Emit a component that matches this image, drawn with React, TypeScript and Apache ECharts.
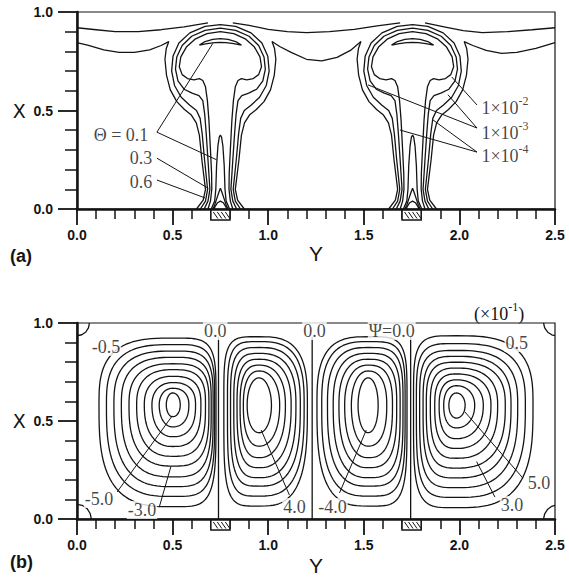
import React, { useEffect, useRef } from "react";
import * as echarts from "echarts";

const INK = "#141414";

// ================= Panel (a): temperature field Θ =================
// plume centres (Y) and heated strips on the bottom wall
const PLUME_CENTERS = [0.75, 1.755];
const HEATERS = [
  [0.7, 0.8],
  [1.7, 1.8],
];

// upper wavy contour (absolute [Y, X])
const UP_LEFT = [[0, 0.92], [0.1, 0.91], [0.2, 0.9], [0.32, 0.9], [0.44, 0.91], [0.56, 0.925], [0.685, 0.945]];
const UP_MID = [[0.815, 0.945], [0.9, 0.932], [1.0, 0.912], [1.1, 0.9], [1.2, 0.895], [1.32, 0.9], [1.45, 0.912], [1.57, 0.93], [1.69, 0.945]];
const UP_RIGHT = [[1.82, 0.945], [1.92, 0.925], [2.02, 0.905], [2.12, 0.895], [2.25, 0.9], [2.38, 0.91], [2.5, 0.92]];

// lower wavy contour (absolute [Y, X])
const LOW_LEFT = [[0, 0.845], [0.06, 0.83], [0.14, 0.808], [0.22, 0.795], [0.3, 0.795], [0.38, 0.808], [0.44, 0.83], [0.48, 0.85]];
const LOW_MID = [[1.02, 0.85], [1.06, 0.825], [1.12, 0.795], [1.2, 0.76], [1.28, 0.752], [1.36, 0.77], [1.43, 0.805], [1.485, 0.85]];
const LOW_RIGHT = [[2.025, 0.85], [2.07, 0.83], [2.14, 0.805], [2.22, 0.79], [2.3, 0.795], [2.4, 0.815], [2.5, 0.845]];

// plume contours: left half, [dY from plume centre, X], from top down to the wall
const RING_C = [[0, 0.9], [-0.07, 0.89], [-0.13, 0.864], [-0.178, 0.822], [-0.207, 0.772], [-0.215, 0.722], [-0.2, 0.682], [-0.172, 0.662], [-0.138, 0.656], [-0.11, 0.662], [-0.092, 0.652], [-0.078, 0.62], [-0.068, 0.55], [-0.06, 0.45], [-0.052, 0.3], [-0.046, 0.18], [-0.045, 0.1], [-0.052, 0.04], [-0.065, 0.0]];
const RING_B = [[0, 0.918], [-0.08, 0.907], [-0.15, 0.877], [-0.2, 0.83], [-0.228, 0.772], [-0.235, 0.71], [-0.222, 0.65], [-0.19, 0.608], [-0.148, 0.588], [-0.112, 0.576], [-0.092, 0.55], [-0.082, 0.48], [-0.074, 0.38], [-0.065, 0.25], [-0.055, 0.1], [-0.065, 0.04], [-0.085, 0.0]];
const RING_A = [[0, 0.936], [-0.08, 0.927], [-0.16, 0.894], [-0.217, 0.843], [-0.248, 0.775], [-0.255, 0.7], [-0.24, 0.627], [-0.205, 0.567], [-0.16, 0.527], [-0.125, 0.5], [-0.106, 0.46], [-0.095, 0.38], [-0.083, 0.25], [-0.067, 0.1], [-0.078, 0.04], [-0.105, 0.0]];
const W_LOW_HOOK = [[-0.27, 0.85], [-0.283, 0.815], [-0.29, 0.76], [-0.282, 0.68], [-0.262, 0.605], [-0.228, 0.545], [-0.188, 0.505], [-0.152, 0.477], [-0.126, 0.437], [-0.11, 0.375], [-0.097, 0.25], [-0.078, 0.1], [-0.09, 0.045], [-0.125, 0.0]];
const SPIKE = [[0, 0.375], [-0.006, 0.365], [-0.013, 0.32], [-0.02, 0.22], [-0.024, 0.1], [-0.03, 0.04], [-0.048, 0.0]];
const TRIANGLE = [[0, 0.105], [-0.008, 0.085], [-0.02, 0.05], [-0.03, 0.02], [-0.04, 0.0]];
const BUMP = [[0, 0.04], [-0.015, 0.032], [-0.028, 0.012], [-0.034, 0.0]];
const CRESCENT = [[-0.11, 0.832], [-0.08, 0.85], [-0.04, 0.861], [0, 0.865], [0.04, 0.861], [0.08, 0.85], [0.11, 0.832], [0.07, 0.84], [0.03, 0.845], [0, 0.846], [-0.03, 0.845], [-0.07, 0.84], [-0.11, 0.832]];

// labels and leader lines of panel (a)
const THETA_LABELS = [
  { text: "Θ = 0.1", y: 0.23, x: 0.376 },
  { text: "0.3", y: 0.335, x: 0.259 },
  { text: "0.6", y: 0.335, x: 0.137 },
];
const EXP_LABELS = [
  { mant: "1×10", exp: "-2", y: 2.115, x: 0.523 },
  { mant: "1×10", exp: "-3", y: 2.115, x: 0.396 },
  { mant: "1×10", exp: "-4", y: 2.115, x: 0.279 },
];
const THETA_LEADERS = [
  [[0.418, 0.39], [0.71, 0.84]],
  [[0.418, 0.39], [0.73, 0.25]],
  [[0.418, 0.258], [0.687, 0.105]],
  [[0.418, 0.147], [0.67, 0.056]],
  [[2.092, 0.528], [1.96, 0.67]],
  [[2.092, 0.411], [1.94, 0.58]],
  [[2.092, 0.411], [1.522, 0.63]],
  [[2.092, 0.289], [1.862, 0.452]],
  [[2.092, 0.289], [1.689, 0.401]],
];

// ================= Panel (b): stream function Ψ (×10^-1) =================
// each cell: centre [Y, X] and contour extents, innermost -> outermost
const CELL1_LEVELS = [-5.0, -4.5, -4.0, -3.5, -3.0, -2.5, -2.0, -1.5, -1.0, -0.5];
const CELL1_CENTER = [0.5, 0.582];
const CELL1_LEFT = [0.467, 0.43, 0.392, 0.352, 0.312, 0.272, 0.232, 0.193, 0.154, 0.115];
const CELL1_RIGHT = [0.54, 0.585, 0.62, 0.648, 0.672, 0.69, 0.702, 0.712, 0.72, 0.727];
const CELL1_BOTTOM = [0.522, 0.47, 0.42, 0.37, 0.32, 0.27, 0.215, 0.165, 0.115, 0.063];
const CELL1_TOP = [0.643, 0.667, 0.696, 0.728, 0.762, 0.792, 0.825, 0.857, 0.89, 0.923];

const CELL2_LEVELS = [4.0, 3.5, 3.0, 2.5, 2.0, 1.5, 1.0, 0.5];
const CELL2_CENTER = [0.953, 0.58];
const CELL2_LEFT = [0.89, 0.87, 0.853, 0.837, 0.82, 0.803, 0.787, 0.768];
const CELL2_RIGHT = [1.017, 1.06, 1.09, 1.12, 1.145, 1.168, 1.188, 1.205];
const CELL2_BOTTOM = [0.44, 0.372, 0.313, 0.262, 0.211, 0.168, 0.117, 0.066];
const CELL2_TOP = [0.72, 0.755, 0.785, 0.815, 0.845, 0.875, 0.905, 0.93];

const CELL3_LEVELS = [-4.0, -3.5, -3.0, -2.5, -2.0, -1.5, -1.0, -0.5];
const CELL3_CENTER = [1.522, 0.58];
const CELL3_LEFT = [1.47, 1.435, 1.4, 1.37, 1.34, 1.31, 1.28, 1.255];
const CELL3_RIGHT = [1.575, 1.62, 1.65, 1.672, 1.69, 1.705, 1.716, 1.726];
const CELL3_BOTTOM = [0.44, 0.372, 0.313, 0.262, 0.211, 0.168, 0.117, 0.066];
const CELL3_TOP = [0.72, 0.755, 0.785, 0.815, 0.845, 0.875, 0.905, 0.93];

const CELL4_LEVELS = [5.0, 4.5, 4.0, 3.5, 3.0, 2.5, 2.0, 1.5, 1.0, 0.5];
const CELL4_CENTER = [1.985, 0.58];
const CELL4_LEFT = [1.945, 1.918, 1.894, 1.871, 1.848, 1.827, 1.81, 1.792, 1.775, 1.76];
const CELL4_RIGHT = [2.03, 2.08, 2.125, 2.165, 2.2, 2.24, 2.27, 2.305, 2.345, 2.385];
const CELL4_BOTTOM = [0.515, 0.465, 0.41, 0.36, 0.31, 0.26, 0.21, 0.16, 0.11, 0.058];
const CELL4_TOP = [0.643, 0.68, 0.71, 0.74, 0.77, 0.8, 0.83, 0.86, 0.895, 0.935];

// Ψ = 0 dividing lines and corner eddies
const PSI_ZERO_Y = [0.74, 1.23, 1.745];
const PSI_ZERO_TOP = 0.93;
const CORNER_TL = [[0, 0.935], [0.025, 0.94], [0.046, 0.954], [0.06, 0.975], [0.065, 1.0]];
const CORNER_BL = [[0, 0.075], [0.027, 0.07], [0.053, 0.053], [0.069, 0.028], [0.075, 0]];
const CORNER_TR = [[2.44, 1.0], [2.446, 0.975], [2.462, 0.953], [2.483, 0.94], [2.5, 0.936]];
const CORNER_BR = [[2.44, 0], [2.446, 0.026], [2.462, 0.05], [2.483, 0.065], [2.5, 0.07]];

const PSI_LABELS = [
  { text: "-0.5", y: 0.152, x: 0.878 },
  { text: "0.0", y: 0.723, x: 0.959 },
  { text: "0.0", y: 1.242, x: 0.959 },
  { text: "Ψ=0.0", y: 1.646, x: 0.959 },
  { text: "0.5", y: 2.3, x: 0.898 },
  { text: "-5.0", y: 0.115, x: 0.102 },
  { text: "-3.0", y: 0.34, x: 0.046 },
  { text: "4.0", y: 1.137, x: 0.061 },
  { text: "-4.0", y: 1.336, x: 0.061 },
  { text: "5.0", y: 2.416, x: 0.184 },
  { text: "3.0", y: 2.275, x: 0.071 },
];
const PSI_LEADERS = [
  [[0.21, 0.138], [0.498, 0.526]],
  [[0.43, 0.06], [0.491, 0.267]],
  [[1.111, 0.122], [0.963, 0.454]],
  [[1.373, 0.133], [1.513, 0.454]],
  [[2.332, 0.209], [2.028, 0.547]],
  [[2.186, 0.112], [2.09, 0.293]],
];

// shape exponents for the nested cells (style, innermost -> outermost)
// side squeezed against a plume is flatter, the open side is rounder
const EXP_BAND_10 = [2.1, 2.3, 2.5, 2.75, 3.0, 3.25, 3.5, 3.8, 4.1, 4.5];
const EXP_OPEN_10 = [2.0, 2.1, 2.2, 2.35, 2.5, 2.6, 2.7, 2.8, 2.9, 3.0];
const EXP_BAND_8 = [2.1, 2.4, 2.7, 3.0, 3.35, 3.7, 4.1, 4.5];
const EXP_OPEN_8 = [2.0, 2.15, 2.3, 2.45, 2.6, 2.75, 2.9, 3.0];

// ---------- helpers ----------
const mirror = (pts: number[][]) => pts.map(([d, x]) => [-d, x]);
const fullFromHalf = (half: number[][]) => [...mirror(half).reverse(), ...half.slice(1)];
const place = (pts: number[][], c: number) => pts.map(([d, x]) => [+(c + d).toFixed(4), x]);

function loop(center: number[], L: number, R: number, B: number, T: number, nLeft: number, nRight: number) {
  const [cy, cx] = center;
  const pts: number[][] = [];
  const steps = 120;
  for (let i = 0; i <= steps; i++) {
    const t = (i / steps) * Math.PI * 2;
    const c = Math.cos(t);
    const s = Math.sin(t);
    const n = c >= 0 ? nRight : nLeft;
    const ex = Math.sign(c) * Math.pow(Math.abs(c), 2 / n);
    const ey = Math.sign(s) * Math.pow(Math.abs(s), 2 / n);
    const y = cy + (ex >= 0 ? R - cy : cy - L) * ex;
    const x = cx + (ey >= 0 ? T - cx : cx - B) * ey;
    pts.push([+y.toFixed(4), +x.toFixed(4)]);
  }
  return pts;
}

const CELLS = [
  { levels: CELL1_LEVELS, center: CELL1_CENTER, L: CELL1_LEFT, R: CELL1_RIGHT, B: CELL1_BOTTOM, T: CELL1_TOP, nL: EXP_OPEN_10, nR: EXP_BAND_10 },
  { levels: CELL2_LEVELS, center: CELL2_CENTER, L: CELL2_LEFT, R: CELL2_RIGHT, B: CELL2_BOTTOM, T: CELL2_TOP, nL: EXP_BAND_8, nR: EXP_OPEN_8 },
  { levels: CELL3_LEVELS, center: CELL3_CENTER, L: CELL3_LEFT, R: CELL3_RIGHT, B: CELL3_BOTTOM, T: CELL3_TOP, nL: EXP_OPEN_8, nR: EXP_BAND_8 },
  { levels: CELL4_LEVELS, center: CELL4_CENTER, L: CELL4_LEFT, R: CELL4_RIGHT, B: CELL4_BOTTOM, T: CELL4_TOP, nL: EXP_BAND_10, nR: EXP_OPEN_10 },
];

const line = (data: number[][], gi: number, width = 1.3) => ({
  type: "line",
  xAxisIndex: gi,
  yAxisIndex: gi,
  data,
  symbol: "none",
  showSymbol: false,
  silent: true,
  lineStyle: { color: INK, width },
  z: 3,
});

const SERIF = "'Liberation Serif', 'DejaVu Serif', serif";

function buildOption() {
  const series: any[] = [];

  // ----- panel (a)
  [UP_LEFT, UP_MID, UP_RIGHT, LOW_LEFT, LOW_MID, LOW_RIGHT].forEach((p) => series.push(line(p, 0)));
  PLUME_CENTERS.forEach((c) => {
    [RING_A, RING_B, RING_C, SPIKE, TRIANGLE, BUMP].forEach((h) => series.push(line(place(fullFromHalf(h), c), 0)));
    series.push(line(place(W_LOW_HOOK, c), 0));
    series.push(line(place(mirror(W_LOW_HOOK), c), 0));
    series.push(line(place(CRESCENT, c), 0));
  });
  THETA_LEADERS.forEach((l) => series.push(line(l, 0, 1)));

  series.push({
    type: "scatter",
    xAxisIndex: 0,
    yAxisIndex: 0,
    symbolSize: 0,
    silent: true,
    z: 5,
    data: [
      ...THETA_LABELS.map((l) => ({
        value: [l.y, l.x],
        name: l.text,
        label: {
          show: true,
          position: "inside",
          formatter: "{b}",
          fontFamily: SERIF,
          fontSize: 18,
          color: INK,
          backgroundColor: "#fff",
          padding: [0, 1],
        },
      })),
      ...EXP_LABELS.map((l) => ({
        value: [l.y, l.x],
        name: l.mant + l.exp,
        label: {
          show: true,
          position: "right",
          distance: 0,
          formatter: `{m|${l.mant}}{e|${l.exp}}`,
          backgroundColor: "#fff",
          rich: {
            m: { fontFamily: SERIF, fontSize: 18, color: INK, lineHeight: 22, verticalAlign: "bottom" },
            e: { fontFamily: SERIF, fontSize: 12, color: INK, lineHeight: 22, verticalAlign: "top" },
          },
        },
      })),
    ],
  });

  // ----- panel (b)
  CELLS.forEach((cell) => {
    cell.levels.forEach((_, i) => {
      series.push(line(loop(cell.center, cell.L[i], cell.R[i], cell.B[i], cell.T[i], cell.nL[i], cell.nR[i]), 1));
    });
  });
  PSI_ZERO_Y.forEach((y) => series.push(line([[y, 0], [y, PSI_ZERO_TOP]], 1)));
  [CORNER_TL, CORNER_BL, CORNER_TR, CORNER_BR].forEach((p) => series.push(line(p, 1)));
  PSI_LEADERS.forEach((l) => series.push(line(l, 1, 1)));
  series.push({
    type: "scatter",
    xAxisIndex: 1,
    yAxisIndex: 1,
    symbolSize: 0,
    silent: true,
    z: 5,
    data: PSI_LABELS.map((l) => ({
      value: [l.y, l.x],
      name: l.text,
      label: {
        show: true,
        position: "inside",
        formatter: "{b}",
        fontFamily: SERIF,
        fontSize: 18,
        color: INK,
        backgroundColor: "#fff",
        padding: [0, 1],
      },
    })),
  });

  // heated strips, both panels
  [0, 1].forEach((gi) =>
    series.push({
      type: "custom",
      xAxisIndex: gi,
      yAxisIndex: gi,
      clip: false,
      silent: true,
      z: 6,
      data: HEATERS.map((h) => [h[0], h[1], 0]),
      encode: { x: [0, 1], y: 2 },
      renderItem: (params: any, api: any) => {
        const a = api.coord([api.value(0), 0]);
        const b = api.coord([api.value(1), 0]);
        const w = b[0] - a[0];
        const h = 10;
        const y0 = a[1] + 1;
        const children: any[] = [
          { type: "rect", shape: { x: a[0], y: y0, width: w, height: h }, style: { fill: "#fff", stroke: INK, lineWidth: 1.5 } },
        ];
        for (let k = 0; k < 4; k++) {
          const sx = a[0] + 2.5 + k * 4;
          children.push({ type: "line", shape: { x1: sx, y1: y0 + 2, x2: sx + 4.5, y2: y0 + h - 1.5 }, style: { stroke: INK, lineWidth: 1 } });
        }
        return { type: "group", children };
      },
    })
  );

  const xAxis = (gi: number, nameGap: number) => ({
    type: "value",
    gridIndex: gi,
    min: 0,
    max: 2.5,
    interval: 0.5,
    name: "Y",
    nameLocation: "middle",
    nameGap,
    nameTextStyle: { fontFamily: "'Liberation Sans', sans-serif", fontSize: 21, color: INK },
    axisLine: { show: true, onZero: false, lineStyle: { color: INK, width: 2.5 } },
    axisTick: { show: true, inside: false, length: 16, lineStyle: { color: INK, width: 1.8 } },
    minorTick: { show: true, splitNumber: 5, length: 10, lineStyle: { color: INK, width: 1.5 } },
    splitLine: { show: false },
    minorSplitLine: { show: false },
    axisLabel: {
      margin: 19,
      fontFamily: "'Liberation Sans', sans-serif",
      fontWeight: "bold",
      fontSize: 14,
      color: INK,
      formatter: (v: number) => v.toFixed(1),
    },
  });
  const yAxis = (gi: number) => ({
    type: "value",
    gridIndex: gi,
    min: 0,
    max: 1,
    interval: 0.5,
    axisLine: { show: true, onZero: false, lineStyle: { color: INK, width: 2.5 } },
    axisTick: { show: true, inside: false, length: 19, lineStyle: { color: INK, width: 1.8 } },
    minorTick: { show: true, splitNumber: 5, length: 12, lineStyle: { color: INK, width: 1.5 } },
    splitLine: { show: false },
    minorSplitLine: { show: false },
    axisLabel: {
      margin: 24,
      fontFamily: "'Liberation Sans', sans-serif",
      fontWeight: "bold",
      fontSize: 14,
      color: INK,
      formatter: (v: number) => (Math.abs(v - 0.5) < 1e-9 ? "{n|X}  0.5" : v.toFixed(1)),
      rich: { n: { fontFamily: "'DejaVu Sans', sans-serif", fontSize: 19, fontWeight: "normal", color: INK } },
    },
  });

  return {
    animation: false,
    backgroundColor: "#fff",
    grid: [
      { left: 77, top: 12, width: 478, height: 197, show: true, borderColor: INK, borderWidth: 1.2, backgroundColor: "transparent" },
      { left: 77, top: 323, width: 478, height: 196, show: true, borderColor: INK, borderWidth: 1.2, backgroundColor: "transparent" },
    ],
    xAxis: [xAxis(0, 31), xAxis(1, 36)],
    yAxis: [yAxis(0), yAxis(1)],
    graphic: [
      { type: "text", left: 10, top: 247, style: { text: "(a)", font: "bold 18px 'Liberation Sans', sans-serif", fill: INK } },
      { type: "text", left: 10, top: 553, style: { text: "(b)", font: "bold 18px 'Liberation Sans', sans-serif", fill: INK } },
      {
        type: "text",
        left: 474,
        top: 301,
        style: {
          text: "{m|(×10}{e|-1}{m|)}",
          rich: {
            m: { fontFamily: SERIF, fontSize: 18, fill: INK, lineHeight: 22, verticalAlign: "bottom" },
            e: { fontFamily: SERIF, fontSize: 12, fill: INK, lineHeight: 22, verticalAlign: "top" },
          },
        },
      },
    ],
    series,
  };
}

export default function App() {
  const ref = useRef<HTMLDivElement>(null);
  useEffect(() => {
    if (!ref.current) return;
    const chart = echarts.init(ref.current, undefined, { renderer: "svg" });
    chart.setOption(buildOption() as any);
    return () => chart.dispose();
  }, []);
  return (
    <div
      ref={ref}
      style={{ position: "absolute", left: 0, top: 0, width: 569, height: 578, background: "#fff" }}
    />
  );
}
